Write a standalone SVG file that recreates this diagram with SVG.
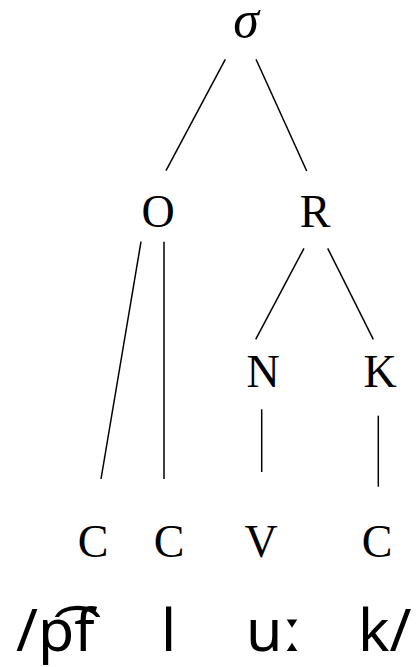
<svg xmlns="http://www.w3.org/2000/svg" width="420" height="667" viewBox="0 0 420 667">
<style>
.n{font-family:"Liberation Serif","Times New Roman",serif;font-size:46px;fill:#000;text-anchor:middle}
.s{font-style:italic;font-size:52px}
.ipa{font-family:"Noto Sans","DejaVu Sans",sans-serif;font-size:59px;fill:#000}
#edges line{stroke:#000;stroke-width:1.5;fill:none}
</style>
<rect width="420" height="667" fill="#fff"/>
<g id="edges">
<line x1="225.3" y1="59.3" x2="166" y2="170.7"/>
<line x1="256" y1="59.3" x2="306.7" y2="171"/>
<line x1="141" y1="241.7" x2="101" y2="479"/>
<line x1="164" y1="241.7" x2="164" y2="479"/>
<line x1="304" y1="248.3" x2="255.7" y2="339.3"/>
<line x1="327.7" y1="248.3" x2="373.3" y2="339.3"/>
<line x1="261.7" y1="409.3" x2="261.7" y2="472"/>
<line x1="378.3" y1="415.7" x2="378.3" y2="486.7"/>
</g>
<g id="sigma"><text class="n s" x="246" y="37">σ</text></g>
<g id="O"><text class="n" x="158" y="226.5">O</text></g>
<g id="R"><text class="n" x="315" y="226.5">R</text></g>
<g id="N"><text class="n" x="263" y="386.5">N</text></g>
<g id="K"><text class="n" x="380" y="386.5">K</text></g>
<g id="C1"><text class="n" x="93" y="556.5">C</text></g>
<g id="C2"><text class="n" x="169" y="556.5">C</text></g>
<g id="V"><text class="n" x="261" y="556.5">V</text></g>
<g id="C3"><text class="n" x="377" y="556.5">C</text></g>
<g id="transcription">
<text class="ipa" x="16" y="651">/p͡f</text>
<text class="ipa" x="161" y="651">l</text>
<text class="ipa" x="246" y="651">uː</text>
<text class="ipa" x="358" y="651">k/</text>
</g>
</svg>
